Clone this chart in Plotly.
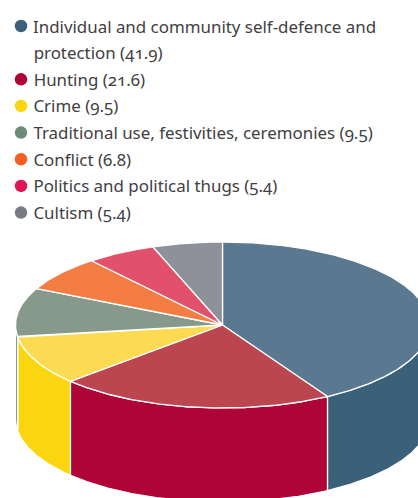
import numpy as np
import plotly.graph_objects as go

categories = [
    "Individual and community self-defence and",
    "Hunting",
    "Crime",
    "Traditional use, festivities, ceremonies",
    "Conflict",
    "Politics and political thugs",
    "Cultism",
]
values = [41.9, 21.6, 9.5, 9.5, 6.8, 5.4, 5.4]
wall_colors = ["#3A607A", "#AF0436", "#FBD50F", "#6E8B78", "#F36024", "#E01556", "#787B84"]
top_colors = ["#5A788F", "#BC4650", "#FCDB52", "#87998B", "#F47D43", "#E2516C", "#8E9199"]

# Pie geometry in page pixels: ellipse centre, radii and extrusion depth
CX, CY, RX, RY, DEPTH = 222.5, 325.0, 207.0, 83.0, 94.0
# Slight foreshortening of the tilted disc, in degrees at the front of the pie
TILT_SKEW = 1.2
TEXT_COLOR = "#414042"
FONT = "Noto Sans"
FONT_SIZE = 16.9

shares = np.array(values) / sum(values) * 360.0
edges = np.concatenate([[0.0], np.cumsum(shares)])
edges = edges - TILT_SKEW * np.sin(np.radians(edges) / 2)


def rim(start, end):
    t = np.radians(np.linspace(start, end, max(int(end - start) * 2, 2) + 1))
    return CX + RX * np.sin(t), CY - RY * np.cos(t)


fig = go.Figure()

# Outer wall: only the part of each slice facing the viewer (90 to 270 degrees)
for i, color in enumerate(wall_colors):
    a, b = max(edges[i], 90.0), min(edges[i + 1], 270.0)
    if a >= b:
        continue
    x, y = rim(a, b)
    fig.add_trace(go.Scatter(
        x=np.concatenate([x, x[::-1], x[:1]]),
        y=np.concatenate([y, y[::-1] + DEPTH, y[:1]]),
        mode="lines", fill="toself", fillcolor=color,
        line=dict(color="white", width=1.3), hoverinfo="skip",
    ))

# Top face
for i, color in enumerate(top_colors):
    x, y = rim(edges[i], edges[i + 1])
    fig.add_trace(go.Scatter(
        x=np.concatenate([[CX], x, [CX]]),
        y=np.concatenate([[CY], y, [CY]]),
        mode="lines", fill="toself", fillcolor=color,
        line=dict(color="white", width=1.3),
        name=categories[i], text=f"{values[i]}", hoverinfo="name+text",
    ))

# Legend rows; the first entry wraps onto a second line
ROW0, ROW_STEP = 26.0, 26.65
row = 0
annotations = []
for i, cat in enumerate(categories):
    y0 = ROW0 + ROW_STEP * row
    fig.add_trace(go.Scatter(
        x=[21], y=[y0], mode="markers",
        marker=dict(size=12.5, color=wall_colors[i]), hoverinfo="skip",
    ))
    lines = [f"{cat} ({values[i]})"]
    if i == 0:
        lines = [cat, f"protection ({values[i]})"]
    for line in lines:
        annotations.append(dict(
            x=31, y=ROW0 + ROW_STEP * row, text=line, showarrow=False,
            xanchor="left", yanchor="middle", xref="x", yref="y",
            font=dict(family=FONT, size=FONT_SIZE, color=TEXT_COLOR),
        ))
        row += 1

fig.update_layout(
    width=418, height=498,
    margin=dict(l=0, r=0, t=0, b=0),
    paper_bgcolor="white", plot_bgcolor="white",
    showlegend=False,
    annotations=annotations,
    xaxis=dict(range=[0, 418], visible=False, fixedrange=True),
    yaxis=dict(range=[498, 0], visible=False, fixedrange=True),
)

old_style_figures = (
    "var s=document.createElement('style');"
    "s.textContent='svg text{font-feature-settings:\"onum\" 1;}';"
    "document.head.appendChild(s);"
)
fig.write_html("out.html", post_script=old_style_figures, config=dict(displayModeBar=False))
